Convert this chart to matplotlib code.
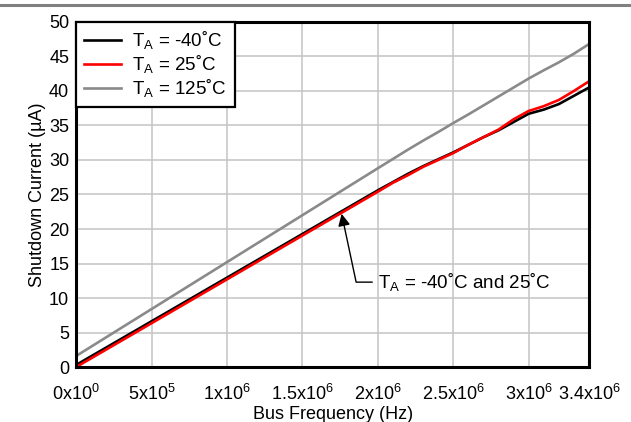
import numpy as np
import matplotlib.pyplot as plt
from matplotlib.lines import Line2D

plt.rcParams['font.family'] = ['Liberation Sans', 'DejaVu Sans']
plt.rcParams['mathtext.fontset'] = 'custom'
plt.rcParams['mathtext.rm'] = 'Liberation Sans'
plt.rcParams['mathtext.it'] = 'Liberation Sans'

# Bus frequency (Hz) and shutdown current (uA) per temperature
freq = np.linspace(0, 3.4e6, 35)
i_m40 = [0.3, 1.57, 2.83, 4.1, 5.36, 6.63, 7.89, 9.16, 10.42, 11.69,
         12.95, 14.22, 15.48, 16.75, 18.01, 19.28, 20.54, 21.81, 23.07, 24.34,
         25.6, 26.8, 28.0, 29.1, 30.1, 31.1, 32.2, 33.3, 34.3, 35.5,
         36.7, 37.3, 38.1, 39.3, 40.5]
i_25 = [0.0, 1.27, 2.54, 3.81, 5.08, 6.35, 7.62, 8.89, 10.16, 11.43,
        12.7, 13.97, 15.24, 16.51, 17.78, 19.05, 20.32, 21.59, 22.86, 24.13,
        25.4, 26.7, 27.8, 29.0, 30.0, 31.0, 32.2, 33.3, 34.4, 35.9,
        37.1, 37.8, 38.7, 40.0, 41.4]
i_125 = [1.6, 2.96, 4.32, 5.68, 7.04, 8.4, 9.76, 11.12, 12.48, 13.84,
         15.2, 16.56, 17.92, 19.28, 20.64, 22.0, 23.36, 24.72, 26.08, 27.44,
         28.8, 30.15, 31.5, 32.8, 34.05, 35.35, 36.6, 37.9, 39.2, 40.5,
         41.8, 43.0, 44.15, 45.4, 46.8]

xticks = [0, 5e5, 1e6, 1.5e6, 2e6, 2.5e6, 3e6, 3.4e6]
xticklabels = [r'0x10$^0$', r'5x10$^5$', r'1x10$^6$', r'1.5x10$^6$',
               r'2x10$^6$', r'2.5x10$^6$', r'3x10$^6$', r'3.4x10$^6$']
yticks = np.arange(0, 51, 5)

fig = plt.figure(figsize=(6.31, 4.22), dpi=100)
ax = fig.add_axes([0.1207, 0.1303, 0.8127, 0.8176])

# thin rule across the top of the page
fig.add_artist(Line2D([0, 1], [1 - 5 / 422, 1 - 5 / 422], color='#808080', lw=2.2))

ax.plot(freq, i_m40, color='black', lw=1.9, label='T$_\\mathregular{A}$ = -40˚C')
ax.plot(freq, i_25, color='#ff0000', lw=1.9, label='T$_\\mathregular{A}$ = 25˚C')
ax.plot(freq, i_125, color='#8a8a8a', lw=1.9, label='T$_\\mathregular{A}$ = 125˚C')

ax.set_xlim(0, 3.4e6)
ax.set_ylim(0, 50)
ax.set_xticks(xticks)
ax.set_xticklabels(xticklabels)
ax.set_yticks(yticks)
ax.tick_params(length=0, labelsize=13)
ax.tick_params(axis='x', pad=12)
ax.tick_params(axis='y', pad=5)
ax.grid(True, color='#c8c8c8', lw=1.2)
ax.set_axisbelow(True)
for s in ax.spines.values():
    s.set_linewidth(2.2)

ax.set_xlabel('Bus Frequency (Hz)', fontsize=13)
ax.xaxis.set_label_coords(0.5, -0.112)
ax.set_ylabel('Shutdown Current (µA)', fontsize=13, labelpad=2)

leg = ax.legend(loc='upper left', borderaxespad=0, fancybox=False,
                fontsize=13.5, handlelength=2.0, labelspacing=0.1,
                borderpad=0.4, handletextpad=0.6)
leg.get_frame().set_edgecolor('black')
leg.get_frame().set_linewidth(1.6)
leg.get_frame().set_alpha(1)

ax.annotate('T$_\\mathregular{A}$ = -40˚C and 25˚C', xy=(1.76e6, 22.2),
            xytext=(2.0e6, 12.3), fontsize=13.5, ha='left', va='center',
            arrowprops=dict(arrowstyle='-|>', color='black', lw=1,
                            mutation_scale=18, shrinkA=2, shrinkB=0,
                            relpos=(0, 0.5),
                            connectionstyle='angle,angleA=180,angleB=102,rad=0'))

fig.savefig('out.png', dpi=100)
